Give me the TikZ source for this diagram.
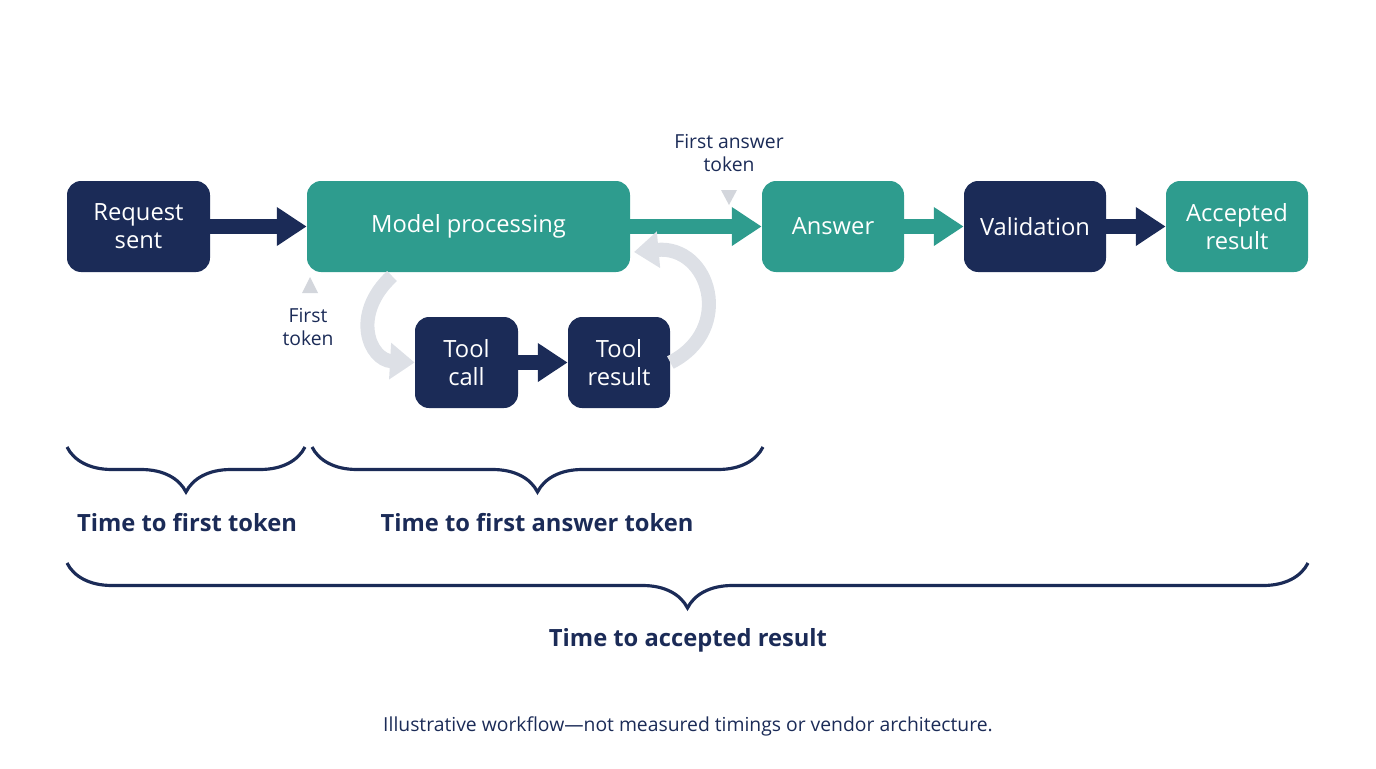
\documentclass[tikz,border=0pt]{standalone}
\usepackage{fontspec}
\setmainfont{Open Sans}
\usetikzlibrary{arrows.meta,positioning,decorations.pathreplacing}
\definecolor{navy}{HTML}{1B2B57}
\definecolor{teal}{HTML}{2E9C8E}
\definecolor{loopgray}{HTML}{DDE0E6}
\definecolor{markgray}{HTML}{D3D6DC}
\tikzset{
  box/.style = {rounded corners=8pt, text=white, align=center,
    font=\fontsize{13.5}{16}\selectfont, inner sep=0pt},
  navybox/.style = {box, fill=navy},
  tealbox/.style = {box, fill=teal},
  flow/.style = {line width=8pt, -{Triangle[length=17pt,width=21pt]}},
  loop/.style = {line width=8pt, draw=loopgray, -{Triangle[length=14pt,width=20pt]}},
  span/.style = {draw=navy, line width=1.8pt, decorate},
  note/.style = {font=\fontsize{11}{13}\selectfont, text=navy, align=center},
  spanlabel/.style = {font=\bfseries\fontsize{13.5}{16}\selectfont, text=navy},
}
\begin{document}
\begin{tikzpicture}[x=0.02cm,y=-0.02cm]
  \useasboundingbox (0,0) rectangle (1376,768);
  % main flow
  \node[navybox, minimum width=143*0.02cm, minimum height=91*0.02cm] (req) at (138.5,226.5) {Request\\sent};
  \node[tealbox, minimum width=323*0.02cm, minimum height=91*0.02cm] (model) at (468.5,226.5) {Model processing};
  \node[tealbox, minimum width=142*0.02cm, minimum height=91*0.02cm] (answer) at (833,226.5) {Answer};
  \node[navybox, minimum width=142*0.02cm, minimum height=91*0.02cm] (valid) at (1035,226.5) {Validation};
  \node[tealbox, minimum width=142*0.02cm, minimum height=91*0.02cm] (accept) at (1237,226.5) {Accepted\\result};
  % tool loop
  \node[navybox, minimum width=103*0.02cm, minimum height=91*0.02cm] (call) at (466.5,362.5) {Tool\\call};
  \node[navybox, minimum width=102*0.02cm, minimum height=91*0.02cm] (toolres) at (619,362.5) {Tool\\result};
  % arrows
  \draw[flow, navy] (req) -- (model);
  \draw[flow, teal] (model) -- (answer);
  \draw[flow, teal] (answer) -- (valid);
  \draw[flow, navy] (valid) -- (accept);
  \draw[flow, navy] (call) -- (toolres);
  \coordinate (out) at (392,276);
  \coordinate (back) at (634,252);
  \draw[loop] (out) .. controls (350,315) and (370,360) .. (call.west);
  \draw[loop] (toolres.east) .. controls (735,330) and (710,245) .. (back);
  % markers
  \fill[markgray] (310,277) -- (302,293) -- (318,293) -- cycle;
  \node[note] (first) at (308,327) {First\\token};
  \fill[markgray] (729,205) -- (721,190) -- (737,190) -- cycle;
  \node[note] (firstans) at (729,153) {First answer\\token};
  % spans
  \draw[span, decoration={brace, amplitude=0.9cm}] (305,447) -- (67,447);
  \draw[span, decoration={brace, amplitude=0.9cm}] (763,447) -- (312,447);
  \draw[span, decoration={brace, amplitude=0.9cm}] (1308,563) -- (67,563);
  \node[spanlabel] (ttft) at (187,523) {Time to first token};
  \node[spanlabel] (ttfa) at (537,523) {Time to first answer token};
  \node[spanlabel] (ttar) at (688,640) {Time to accepted result};
  \node[note] (foot) at (688,726) {Illustrative workflow—not measured timings or vendor architecture.};
\end{tikzpicture}
\end{document}
